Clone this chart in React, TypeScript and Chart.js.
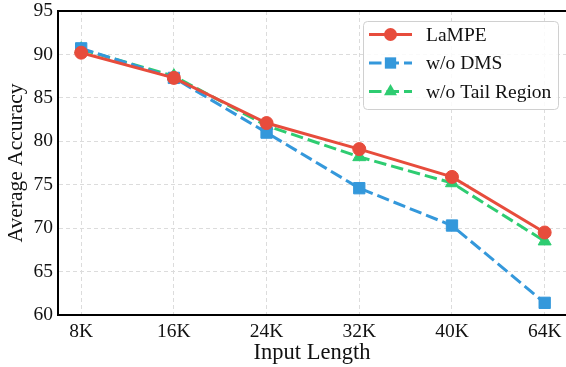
import React, { useEffect, useRef } from "react";
import { Chart, registerables } from "chart.js";

Chart.register(...registerables);

const categories = ["8K", "16K", "24K", "32K", "40K", "64K"];
const lampe = [90.2, 87.3, 82.1, 79.1, 75.9, 69.5];
const woDms = [90.7, 87.3, 81.0, 74.6, 70.3, 61.4];
const woTail = [90.6, 87.5, 81.8, 78.2, 75.2, 68.5];
const yTicks = [60, 65, 70, 75, 80, 85, 90, 95];

const RED = "#e74c3c";
const BLUE = "#3498db";
const GREEN = "#2ecc71";
const FONT = "'Liberation Serif', 'Times New Roman', serif";
const DASH = [12.5, 5];

const seriesDefs = [
  { label: "LaMPE", data: lampe, color: RED, dash: [] as number[], style: "circle", radius: 6.5 },
  { label: "w/o DMS", data: woDms, color: BLUE, dash: DASH, style: "rect", radius: 8 },
  { label: "w/o Tail Region", data: woTail, color: GREEN, dash: DASH, style: "triangle", radius: 7.5 },
];

function drawMarker(ctx: CanvasRenderingContext2D, style: string, r: number, x: number, y: number, color: string) {
  ctx.fillStyle = color;
  ctx.beginPath();
  if (style === "circle") {
    ctx.arc(x, y, r, 0, Math.PI * 2);
  } else if (style === "rect") {
    const s = r * Math.SQRT1_2;
    ctx.rect(x - s, y - s, 2 * s, 2 * s);
  } else {
    ctx.moveTo(x, y - r);
    ctx.lineTo(x + r * Math.sin(Math.PI * 2 / 3), y - r * Math.cos(Math.PI * 2 / 3));
    ctx.lineTo(x - r * Math.sin(Math.PI * 2 / 3), y - r * Math.cos(Math.PI * 2 / 3));
    ctx.closePath();
  }
  ctx.fill();
}

const legendPlugin = {
  id: "customLegend",
  afterDraw(chart: any) {
    const ctx = chart.ctx as CanvasRenderingContext2D;
    const x0 = 363, y0 = 21, w = 195, h = 88;
    ctx.save();
    ctx.beginPath();
    (ctx as any).roundRect(x0 + 0.5, y0 + 0.5, w, h, 4);
    ctx.fillStyle = "rgba(255,255,255,0.85)";
    ctx.fill();
    ctx.strokeStyle = "#d0d0d0";
    ctx.lineWidth = 1;
    ctx.stroke();
    seriesDefs.forEach((s, i) => {
      const cy = 34.5 + i * 28.5;
      ctx.beginPath();
      ctx.setLineDash(s.dash);
      ctx.strokeStyle = s.color;
      ctx.lineWidth = 3;
      ctx.moveTo(369, cy);
      ctx.lineTo(412, cy);
      ctx.stroke();
      ctx.setLineDash([]);
      drawMarker(ctx, s.style, s.radius, 390.5, cy, s.color);
      ctx.fillStyle = "#111";
      ctx.font = `19.5px ${FONT}`;
      ctx.textBaseline = "middle";
      ctx.textAlign = "left";
      ctx.fillText(s.label, 426, cy + 1);
    });
    ctx.restore();
  },
};

const topSpinePlugin = {
  id: "topSpine",
  afterDatasetsDraw(chart: any) {
    const { ctx, chartArea } = chart;
    ctx.save();
    ctx.strokeStyle = "#000";
    ctx.lineWidth = 2;
    ctx.beginPath();
    ctx.moveTo(chartArea.left, chartArea.top);
    ctx.lineTo(chartArea.right + 2, chartArea.top);
    ctx.stroke();
    ctx.restore();
  },
};

export default function App() {
  const ref = useRef<HTMLCanvasElement>(null);
  useEffect(() => {
    if (!ref.current) return;
    const chart = new Chart(ref.current, {
      type: "line",
      data: {
        datasets: seriesDefs.map((s, i) => ({
          label: s.label,
          data: s.data.map((v, j) => ({ x: j, y: v })),
          borderColor: s.color,
          backgroundColor: s.color,
          borderWidth: 3,
          borderDash: s.dash,
          pointStyle: s.style as any,
          pointRadius: s.radius,
          pointBorderWidth: 1,
          pointBackgroundColor: s.color,
          pointBorderColor: s.color,
          order: i,
          tension: 0,
        })),
      },
      options: {
        animation: false,
        responsive: false,
        devicePixelRatio: 1,
        layout: { autoPadding: false, padding: { top: 11, right: 0, left: 0, bottom: 0 } },
        plugins: { legend: { display: false }, tooltip: { enabled: false } },
        scales: {
          x: {
            type: "linear",
            min: -0.25,
            max: 5.23,
            afterBuildTicks: (scale: any) => {
              scale.ticks = categories.map((_, i) => ({ value: i }));
            },
            afterFit: (scale: any) => {
              scale.height = 52;
              scale.paddingLeft = 0;
              scale.paddingRight = 0;
            },
            ticks: {
              callback: (v: any) => categories[v as number] ?? "",
              font: { family: FONT, size: 19.5 },
              color: "#111",
              padding: 5,
              maxRotation: 0,
            },
            grid: {
              color: "#dcdcdc",
              lineWidth: 1,
              drawTicks: false,
            },
            border: { color: "#000", width: 2, dash: [4, 3] } as any,
            title: {
              display: true,
              text: "Input Length",
              font: { family: FONT, size: 22.5 },
              color: "#111",
              padding: { top: 0, bottom: 0 },
            },
          },
          y: {
            min: 60,
            max: 95,
            afterBuildTicks: (scale: any) => {
              scale.ticks = yTicks.map((v) => ({ value: v }));
            },
            afterFit: (scale: any) => {
              scale.width = 58;
              scale.paddingTop = 0;
              scale.paddingBottom = 0;
            },
            ticks: {
              font: { family: FONT, size: 19.5 },
              color: "#111",
              padding: 5,
            },
            grid: {
              color: "#dcdcdc",
              lineWidth: 1,
              drawTicks: false,
            },
            border: { color: "#000", width: 2, dash: [4, 3] } as any,
            title: {
              display: true,
              text: "Average Accuracy",
              font: { family: FONT, size: 21.5 },
              color: "#111",
              padding: { top: 3, bottom: 0 },
            },
          },
        },
      },
      plugins: [topSpinePlugin, legendPlugin],
    });
    return () => chart.destroy();
  }, []);
  return (
    <div style={{ position: "fixed", left: 0, top: 0, width: 566, height: 367, background: "#fff" }}>
      <canvas ref={ref} width={566} height={367} />
    </div>
  );
}
